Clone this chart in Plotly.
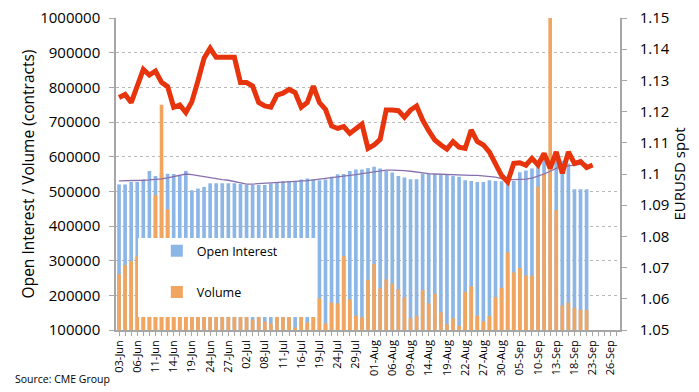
import plotly.graph_objects as go

dates = [
    "03-Jun", "04-Jun", "05-Jun", "06-Jun", "07-Jun", "10-Jun", "11-Jun", "12-Jun", "13-Jun", "14-Jun",
    "17-Jun", "18-Jun", "19-Jun", "20-Jun", "21-Jun", "24-Jun", "25-Jun", "26-Jun", "27-Jun", "28-Jun",
    "01-Jul", "02-Jul", "03-Jul", "05-Jul", "08-Jul", "09-Jul", "10-Jul", "11-Jul", "12-Jul", "15-Jul",
    "16-Jul", "17-Jul", "18-Jul", "19-Jul", "22-Jul", "23-Jul", "24-Jul", "25-Jul", "26-Jul", "29-Jul",
    "30-Jul", "31-Jul", "01-Aug", "02-Aug", "05-Aug", "06-Aug", "07-Aug", "08-Aug", "09-Aug", "12-Aug",
    "13-Aug", "14-Aug", "15-Aug", "16-Aug", "19-Aug", "20-Aug", "21-Aug", "22-Aug", "23-Aug", "26-Aug",
    "27-Aug", "28-Aug", "29-Aug", "30-Aug", "03-Sep", "04-Sep", "05-Sep", "06-Sep", "09-Sep", "10-Sep",
    "11-Sep", "12-Sep", "13-Sep", "16-Sep", "17-Sep", "18-Sep", "19-Sep", "20-Sep", "23-Sep", "24-Sep",
    "25-Sep", "26-Sep", "27-Sep",
]

open_interest = [
    520000, 520000, 527000, 527000, 534000, 559000, 544000, 553000, 551000, 550000,
    544000, 559000, 503000, 508000, 513000, 523000, 523000, 523000, 523000, 523000,
    521000, 518000, 518000, 518000, 518000, 523000, 524000, 529000, 529000, 529000,
    534000, 537000, 534000, 532000, 534000, 542000, 549000, 550000, 559000, 563000,
    563000, 567000, 571000, 566000, 559000, 554000, 544000, 540000, 535000, 535000,
    551000, 551000, 550000, 547000, 547000, 544000, 542000, 532000, 530000, 527000,
    527000, 532000, 530000, 529000, 527000, 530000, 555000, 560000, 566000, 578000,
    604000, 600000, 595000, 588000, 580000, 506000, 506000, 506000,
]

volume = [
    261000, 287000, 299000, 313000, 340000, 360000, 489000, 750000, 448000, 300000,
    250000, 220000, 200000, 180000, 190000, 210000, 170000, 180000, 160000, 150000,
    160000, 140000, 130000, 150000, 124000, 119000, 145000, 150000, 140000, 107000,
    145000, 122000, 150000, 191000, 119000, 179000, 177000, 313000, 188000, 141000,
    137000, 245000, 290000, 220000, 246000, 234000, 217000, 194000, 134000, 140000,
    215000, 177000, 204000, 151000, 117000, 134000, 112000, 210000, 226000, 141000,
    125000, 140000, 194000, 222000, 324000, 266000, 279000, 257000, 257000, 513000,
    552000, 1000000, 446000, 171000, 179000, 164000, 158000, 158000,
]

oi_average = [
    530000, 530000, 530000, 531000, 532000, 533000, 534000, 536000, 539000, 542000,
    546000, 550000, 548000, 545000, 541000, 538000, 536000, 534000, 532000, 528000,
    525000, 521000, 521000, 522000, 522000, 523000, 524000, 525000, 526000, 527000,
    529000, 531000, 533000, 535000, 537000, 539000, 541000, 542000, 545000, 548000,
    551000, 554000, 557000, 560000, 561000, 561000, 561000, 560000, 558000, 555000,
    553000, 551000, 550000, 549000, 548000, 547000, 547000, 546000, 546000, 546000,
    545000, 543000, 541000, 537000, 534000, 534000, 534000, 535000, 538000, 543000,
    550000, 558000, 566000, 571000, 574000, 577000, 578000, 579000,
]

eurusd = [
    1.1245, 1.1255, 1.1229, 1.1285, 1.1335, 1.1317, 1.1330, 1.1294, 1.1280, 1.1214,
    1.1221, 1.1197, 1.1232, 1.1299, 1.1371, 1.1403, 1.1374, 1.1374, 1.1374, 1.1374,
    1.1293, 1.1293, 1.1282, 1.1229, 1.1218, 1.1214, 1.1253, 1.1259, 1.1271, 1.1261,
    1.1214, 1.1229, 1.1282, 1.1229, 1.1207, 1.1154, 1.1146, 1.1152, 1.1130, 1.1146,
    1.1160, 1.1082, 1.1093, 1.1111, 1.1205, 1.1205, 1.1203, 1.1182, 1.1205, 1.1218,
    1.1173, 1.1139, 1.1109, 1.1093, 1.1080, 1.1104, 1.1086, 1.1082, 1.1141, 1.1104,
    1.1093, 1.1070, 1.1030, 1.0995, 1.0975, 1.1034, 1.1036, 1.1028, 1.1050, 1.1029,
    1.1066, 1.1018, 1.1071, 1.1002, 1.1071, 1.1034, 1.1040, 1.1021, 1.1029,
]

tick_labels = [d if i % 3 == 0 else "" for i, d in enumerate(dates)]

FONT = "Open Sans"

fig = go.Figure()
fig.add_trace(go.Bar(
    x=dates[:len(open_interest)], y=open_interest, name="Open Interest",
    legendgroup="oi", marker=dict(color="#8cb6e6", line=dict(width=0)), width=0.6,
))
fig.add_trace(go.Bar(
    x=dates[:len(volume)], y=volume, name="Volume",
    legendgroup="vol", marker=dict(color="#f0a560", line=dict(width=0)), width=0.6,
))
fig.add_trace(go.Scatter(
    x=dates[:len(oi_average)], y=oi_average, mode="lines", showlegend=False,
    line=dict(color="#8870ae", width=1.3),
))
fig.add_trace(go.Scatter(
    x=dates[:len(eurusd)], y=eurusd, mode="lines", showlegend=False, yaxis="y2",
    line=dict(color="#e8340c", width=5),
))

# The page body has an 8px default margin, so the figure is drawn 8px smaller
# and its margins are shifted to land the plot area where the reference has it.
fig.update_layout(
    width=691, height=384,
    margin=dict(l=108, r=79, t=10, b=62, autoexpand=False),
    paper_bgcolor="white", plot_bgcolor="white",
    barmode="overlay",
    font=dict(family=FONT, color="black"),
    xaxis=dict(
        type="category", categoryorder="array", categoryarray=dates,
        range=[-0.5, len(dates) - 0.5], automargin=False,
        tickmode="array", tickvals=dates, ticktext=tick_labels,
        tickangle=-90, tickfont=dict(size=11),
        ticks="outside", ticklen=4, tickcolor="#a6a6a6",
        showline=True, linecolor="#a6a6a6", linewidth=1.5,
        showgrid=False,
    ),
    yaxis=dict(
        range=[100000, 1000000], dtick=100000, tickformat="d", automargin=False,
        tickfont=dict(size=15), ticklabelstandoff=6, ticklabeloverflow="allow",
        ticks="outside", ticklen=5, tickcolor="#a6a6a6",
        showline=True, linecolor="#a6a6a6", linewidth=1.5,
        showgrid=True, gridcolor="#b8b8b8", griddash="dot", gridwidth=1,
        zeroline=False,
        title=dict(text="Open Interest / Volume (contracts)", font=dict(size=15.5), standoff=2),
    ),
    yaxis2=dict(
        overlaying="y", side="right", automargin=False,
        range=[1.05, 1.15], dtick=0.01, tickformat=".2~f",
        tickfont=dict(size=15), ticklabelstandoff=10, ticklabeloverflow="allow",
        ticks="outside", ticklen=5, tickcolor="#a6a6a6",
        showline=True, linecolor="#a6a6a6", linewidth=1.5,
        showgrid=False, zeroline=False,
        title=dict(text="EURUSD spot", font=dict(size=15), standoff=4),
    ),
    legend=dict(
        x=0.081, y=0.301, xanchor="left", yanchor="top",
        bgcolor="rgba(0,0,0,0)", font=dict(size=12.5),
        tracegroupgap=22, itemwidth=30,
    ),
    shapes=[dict(
        type="rect", xref="paper", yref="paper",
        x0=0.0437, x1=0.399, y0=0.0417, y1=0.295,
        fillcolor="white", line=dict(width=0), layer="above",
    )],
    annotations=[dict(
        text="Source: CME Group", xref="paper", yref="paper",
        x=-0.204, y=-0.157, xanchor="left", yanchor="middle",
        showarrow=False, font=dict(size=10.5, color="black"),
    )],
)

fig.write_html("out.html")
